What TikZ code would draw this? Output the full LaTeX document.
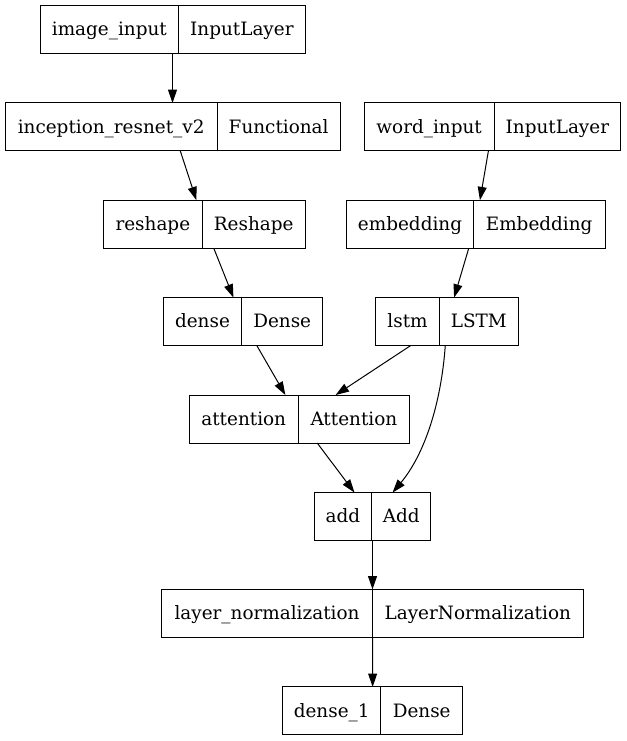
\documentclass[tikz,border=0pt]{standalone}
\usepackage{fontspec}
\setmainfont{DejaVu Serif}
\usetikzlibrary{arrows.meta}
\begin{document}
\begin{tikzpicture}[x=0.75pt,y=-0.75pt,
    record/.style={draw,line width=0.75pt,minimum height=36pt,inner sep=0pt,outer sep=0pt},
    field/.style={draw,line width=0.75pt,minimum height=36pt,inner sep=0pt,outer sep=0pt,anchor=west},
    kind/.style={minimum height=36pt,inner sep=0pt,outer sep=0pt,anchor=east},
    fw/.style={minimum width=#1*0.75pt},
    edge/.style={-{Triangle[length=10pt,width=6.7pt]},line width=0.75pt},
    every node/.style={font=\fontsize{13.8pt}{16pt}\selectfont,text height=10pt,text depth=0.6pt}]
  \useasboundingbox[fill=white] (0,0) rectangle (626,741);
  % layers: whole record, then its name field and its class field
  \node[record,fw=265] (img) at (172.5,29.5) {};
  \node[field,fw=138.7] (imgname) at (img.west) {image\_input};
  \node[kind,fw=126.3] (imgtype) at (img.east) {InputLayer};

  \node[record,fw=335] (incep) at (172.5,127) {};
  \node[field,fw=212.3] (incepname) at (incep.west) {inception\_resnet\_v2};
  \node[kind,fw=122.7] (inceptype) at (incep.east) {Functional};

  \node[record,fw=256.4] (word) at (492.5,127) {};
  \node[field,fw=129.7] (wordname) at (word.west) {word\_input};
  \node[kind,fw=126.7] (wordtype) at (word.east) {InputLayer};

  \node[record,fw=201.7] (reshape) at (204.2,224.2) {};
  \node[field,fw=99] (reshapename) at (reshape.west) {reshape};
  \node[kind,fw=102.7] (reshapetype) at (reshape.east) {Reshape};

  \node[record,fw=258.3] (embed) at (475.85,224.2) {};
  \node[field,fw=126.6] (embedname) at (embed.west) {embedding};
  \node[kind,fw=131.7] (embedtype) at (embed.east) {Embedding};

  \node[record,fw=159.4] (dense) at (243,321.6) {};
  \node[field,fw=78.4] (densename) at (dense.west) {dense};
  \node[kind,fw=81] (densetype) at (dense.east) {Dense};

  \node[record,fw=142.6] (lstm) at (447,321.6) {};
  \node[field,fw=63.6] (lstmname) at (lstm.west) {lstm};
  \node[kind,fw=79] (lstmtype) at (lstm.east) {LSTM};

  \node[record,fw=220.3] (attn) at (299.2,419) {};
  \node[field,fw=109.3] (attnname) at (attn.west) {attention};
  \node[kind,fw=111] (attntype) at (attn.east) {Attention};

  \node[record,fw=116.4] (add) at (372.5,516.6) {};
  \node[field,fw=57.4] (addname) at (add.west) {add};
  \node[kind,fw=59] (addtype) at (add.east) {Add};

  \node[record,fw=421.6] (lnorm) at (372.5,613.4) {};
  \node[field,fw=210.6] (lnormname) at (lnorm.west) {layer\_normalization};
  \node[kind,fw=211] (lnormtype) at (lnorm.east) {LayerNormalization};

  \node[record,fw=180] (dense1) at (372.7,710.9) {};
  \node[field,fw=98] (dense1name) at (dense1.west) {dense\_1};
  \node[kind,fw=82] (dense1type) at (dense1.east) {Dense};

  % connections
  \begin{scope}[edge]
    \draw (img) -- (incep);
    \draw (incep) -- (reshape);
    \draw (reshape) -- (dense);
    \draw (word) -- (embed);
    \draw (embed) -- (lstm);
    \draw (dense) -- (attn);
    \draw (lstm) -- (attn);
    \draw (attn) -- (add);
    \draw (lstm) .. controls (441,405) and (424,455) .. (add);
    \draw (add) -- (lnorm);
    \draw (lnorm) -- (dense1);
  \end{scope}
\end{tikzpicture}
\end{document}
